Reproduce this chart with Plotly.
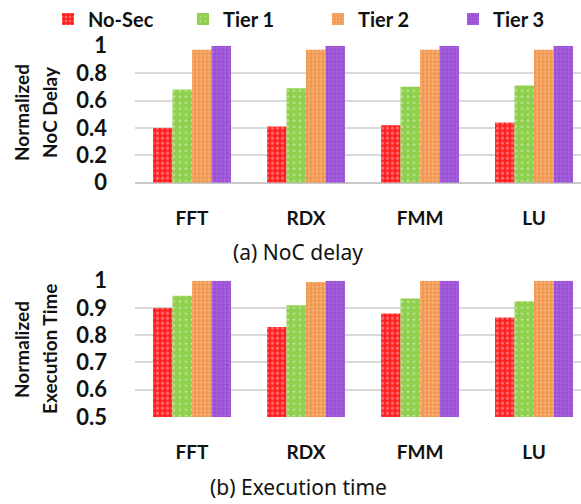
import plotly.graph_objects as go

categories = ["FFT", "RDX", "FMM", "LU"]
series_names = ["No-Sec", "Tier 1", "Tier 2", "Tier 3"]

noc_nosec = [0.40, 0.41, 0.42, 0.44]
noc_tier1 = [0.68, 0.69, 0.70, 0.71]
noc_tier2 = [0.97, 0.97, 0.97, 0.97]
noc_tier3 = [1.00, 1.00, 1.00, 1.00]

exe_nosec = [0.90, 0.83, 0.88, 0.865]
exe_tier1 = [0.945, 0.91, 0.935, 0.925]
exe_tier2 = [1.00, 0.995, 1.00, 1.00]
exe_tier3 = [1.00, 1.00, 1.00, 1.00]

noc_ticks = [0, 0.2, 0.4, 0.6, 0.8, 1]
noc_ticktext = ["0", "0.2", "0.4", "0.6", "0.8", "1"]
exe_ticks = [0.5, 0.6, 0.7, 0.8, 0.9, 1]
exe_ticktext = ["0.5", "0.6", "0.7", "0.8", "0.9", "1"]

styles = [
    dict(bg="#ff1f1f", fg="#ffb3b3", shape=".", size=5, sol=0.35),
    dict(bg="#8fd04e", fg="#e6f5d6", shape=".", size=6, sol=0.15),
    dict(bg="#f0954a", fg="#f9cba4", shape=".", size=4, sol=0.45),
    dict(bg="#984bd4", fg="#c9a3ec", shape="+", size=4, sol=0.3),
]

W, H = 581, 504
FONT = "Lato"
L = 135
PW = W - L

fig = go.Figure()
noc_data = [noc_nosec, noc_tier1, noc_tier2, noc_tier3]
exe_data = [exe_nosec, exe_tier1, exe_tier2, exe_tier3]
for i, name in enumerate(series_names):
    s = styles[i]
    pat = dict(shape=s["shape"], bgcolor=s["bg"], fgcolor=s["fg"], size=s["size"], solidity=s["sol"])
    fig.add_trace(go.Bar(x=categories, y=noc_data[i], name=name, xaxis="x", yaxis="y",
                         marker=dict(color=s["bg"], line=dict(width=0), pattern=pat),
                         legendgroup=name, showlegend=True))
    fig.add_trace(go.Bar(x=categories, y=exe_data[i], name=name, xaxis="x2", yaxis="y2",
                         marker=dict(color=s["bg"], line=dict(width=0), pattern=pat),
                         legendgroup=name, showlegend=False))

def py(px):
    return 1 - px / H

def xpx(px):
    return (px - L) / PW

xtick_font = dict(family=FONT, size=19, color="#111111", weight="bold")
ytick_font = dict(family=FONT, size=22, color="#111111", weight="bold")
xr = [-0.5, 3.412]

fig.update_layout(
    width=W, height=H,
    margin=dict(l=L, r=0, t=0, b=0, autoexpand=False),
    paper_bgcolor="white", plot_bgcolor="white",
    barmode="group", bargap=0.316, bargroupgap=0,
    font=dict(family=FONT, color="#111111"),
    showlegend=True,
    legend=dict(orientation="h", x=xpx(48), xanchor="left", y=1.001, yanchor="top",
                font=dict(family=FONT, size=20, color="#111111", weight="bold"),
                entrywidth=90, entrywidthmode="pixels", itemclick=False,
                itemwidth=30, bgcolor="rgba(0,0,0,0)", tracegroupgap=0),
    xaxis=dict(domain=[0, 1], range=xr, anchor="y", showgrid=False, showline=False,
               zeroline=False, tickfont=xtick_font, ticks="", ticklabelstandoff=22, fixedrange=True),
    yaxis=dict(domain=[py(182.7), py(45.7)], range=[0, 1], tickvals=noc_ticks, ticktext=noc_ticktext,
               tickfont=ytick_font, showgrid=True, gridcolor="#d9d9d9", gridwidth=2,
               zeroline=True, zerolinecolor="#c8c8c8", zerolinewidth=2, showline=False,
               ticks="", ticklabelstandoff=27, anchor="x"),
    xaxis2=dict(domain=[0, 1], range=xr, anchor="y2", showgrid=False, showline=False,
                zeroline=False, tickfont=xtick_font, ticks="", ticklabelstandoff=22, fixedrange=True),
    yaxis2=dict(domain=[py(417), py(280.7)], range=[0.5, 1], tickvals=exe_ticks, ticktext=exe_ticktext,
                tickfont=ytick_font, showgrid=True, gridcolor="#d9d9d9", gridwidth=2,
                zeroline=False, showline=False, ticks="", ticklabelstandoff=27, anchor="x2"),
)

title_font = dict(family=FONT, size=19, color="#111111", weight="bold")
ann = []
ann.append(dict(text="Normalized", x=xpx(21), y=py(112), xref="paper", yref="paper",
                textangle=-90, showarrow=False, font=title_font, xanchor="center", yanchor="middle"))
ann.append(dict(text="NoC Delay", x=xpx(49), y=py(112), xref="paper", yref="paper",
                textangle=-90, showarrow=False, font=title_font, xanchor="center", yanchor="middle"))
ann.append(dict(text="Normalized", x=xpx(21), y=py(349), xref="paper", yref="paper",
                textangle=-90, showarrow=False, font=title_font, xanchor="center", yanchor="middle"))
ann.append(dict(text="Execution Time", x=xpx(49), y=py(349), xref="paper", yref="paper",
                textangle=-90, showarrow=False, font=title_font, xanchor="center", yanchor="middle"))
cap_font = dict(family="Noto Sans", size=21, color="#111111")
ann.append(dict(text="(a) NoC delay", x=xpx(298), y=py(252), xref="paper", yref="paper",
                showarrow=False, font=cap_font, xanchor="center", yanchor="middle"))
ann.append(dict(text="(b) Execution time", x=xpx(298), y=py(487), xref="paper", yref="paper",
                showarrow=False, font=cap_font, xanchor="center", yanchor="middle"))
fig.update_layout(annotations=ann)

fig.write_html("out.html", config={"displayModeBar": False},
               post_script="document.body.style.margin='0';document.body.style.overflow='hidden';")
